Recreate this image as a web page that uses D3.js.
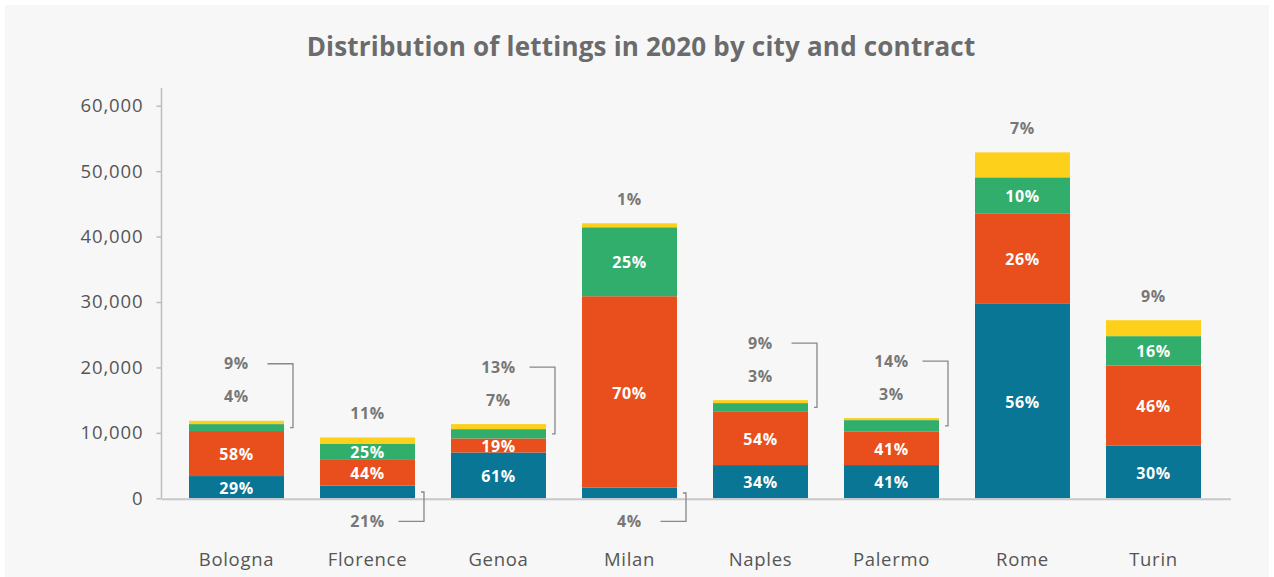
<!DOCTYPE html>
<html>
<head>
<meta charset="utf-8">
<script src="https://cdn.jsdelivr.net/npm/d3@7"></script>
<style>
  body { margin: 0; background: #fff; }
  text { font-family: "Open Sans", sans-serif; }
</style>
</head>
<body>
<div id="chart"></div>
<script>
// chart data
var cities = ["Bologna", "Florence", "Genoa", "Milan", "Naples", "Palermo", "Rome", "Turin"];
var seriesKeys = ["teal", "orange", "green", "yellow"];

var tealValues   = [3400, 1930, 7000, 1620, 5080, 5080, 29710, 8030];
var orangeValues = [6880, 4050, 2150, 29260, 8140, 5090, 13850, 12275];
var greenValues  = [1060, 2320, 1420, 10540, 1330, 1780, 5490, 4475];
var yellowValues = [510, 990, 770, 610, 450, 310, 3820, 2440];

// percentage labels as printed on the chart
var tealPct   = [29, 21, 61, 4, 34, 41, 56, 30];
var orangePct = [58, 44, 19, 70, 54, 41, 26, 46];
var greenPct  = [9, 25, 13, 25, 9, 14, 10, 16];
var yellowPct = [4, 11, 7, 1, 3, 3, 7, 9];

var yTicks = [0, 10000, 20000, 30000, 40000, 50000, 60000];

var colors = { teal: "#087694", orange: "#e94f1c", green: "#31ae6b", yellow: "#fdd01c" };
var pcts = { teal: tealPct, orange: orangePct, green: greenPct, yellow: yellowPct };

var svgWidth = 1274;
var svgHeight = 577;

var svg = d3.select("#chart")
  .append("svg")
  .attr("width", svgWidth)
  .attr("height", svgHeight);

// panel background
svg.append("rect")
  .attr("x", 5).attr("y", 5)
  .attr("width", 1264).attr("height", 572)
  .attr("fill", "#f7f7f7");

// title
svg.append("text")
  .attr("x", 641).attr("y", 56)
  .attr("text-anchor", "middle")
  .attr("font-size", 26)
  .attr("font-weight", 700)
  .attr("letter-spacing", 0.2)
  .attr("fill", "#6b6b6b")
  .text("Distribution of lettings in 2020 by city and contract");

// build table for the stack
var table = cities.map(function(c, i) {
  return { city: c, teal: tealValues[i], orange: orangeValues[i], green: greenValues[i], yellow: yellowValues[i] };
});
var stacked = d3.stack().keys(seriesKeys)(table);

// scales
var xScale = d3.scaleBand()
  .domain(cities)
  .range([171, 1219])
  .paddingInner(0.275)
  .paddingOuter(0.1375);

var yScale = d3.scaleLinear()
  .domain([0, 60000])
  .range([498.3, 105.7]);

// y axis
var leftAxis = d3.axisLeft(yScale)
  .tickValues(yTicks)
  .tickSize(5)
  .tickPadding(13)
  .tickFormat(d3.format(","));

var yAxis = svg.append("g")
  .attr("transform", "translate(161.5,0)")
  .call(leftAxis);
yAxis.select(".domain").remove();
yAxis.selectAll(".tick line").attr("stroke", "#bdbdbd").attr("stroke-width", 1.5);
yAxis.selectAll(".tick text")
  .attr("fill", "#555")
  .attr("font-size", 18.5)
  .attr("letter-spacing", 0.9)
  .style("font-family", "'Open Sans', sans-serif");

svg.append("line")
  .attr("x1", 161.5).attr("x2", 161.5)
  .attr("y1", 88).attr("y2", yScale(0))
  .attr("stroke", "#bdbdbd").attr("stroke-width", 1.5);

// bars
var layers = svg.append("g").selectAll("g")
  .data(stacked)
  .enter().append("g")
  .attr("fill", function(d) { return colors[d.key]; });

layers.selectAll("rect")
  .data(function(d) { return d; })
  .enter().append("rect")
  .attr("x", function(d) { return xScale(d.data.city); })
  .attr("width", xScale.bandwidth())
  .attr("y", function(d) { return yScale(d[1]); })
  .attr("height", function(d) { return yScale(d[0]) - yScale(d[1]); });

// baseline
svg.append("line")
  .attr("x1", 161.5).attr("x2", 1231)
  .attr("y1", yScale(0) + 1).attr("y2", yScale(0) + 1)
  .attr("stroke", "#c8c8c8").attr("stroke-width", 2);

// segment labels
var labelGroup = svg.append("g");
stacked.forEach(function(layer) {
  layer.forEach(function(d, i) {
    var city = d.data.city;
    var cx = xScale(city) + xScale.bandwidth() / 2;
    var right = xScale(city) + xScale.bandwidth();
    var top = yScale(d[1]);
    var bottom = yScale(d[0]);
    var h = bottom - top;
    var mid = (top + bottom) / 2;
    var txt = pcts[layer.key][i] + "%";
    var ly, inside = false;

    if (layer.key === "yellow") {
      ly = top - 24;
    } else if (h >= 14) {
      ly = mid + 1;
      inside = true;
    } else if (layer.key === "green") {
      ly = yScale(d.data.teal + d.data.orange + d.data.green + d.data.yellow) - 57;
    } else {
      ly = yScale(0) + 23;
    }

    labelGroup.append("text")
      .attr("x", cx)
      .attr("y", ly)
      .attr("dy", "0.35em")
      .attr("text-anchor", "middle")
      .attr("font-size", 16)
      .attr("font-weight", 700)
      .attr("letter-spacing", 0.6)
      .attr("fill", inside ? "#fff" : "#777")
      .text(txt);

    // connector bracket for labels moved out of thin segments
    if (!inside && layer.key !== "yellow") {
      labelGroup.append("path")
        .attr("d", "M" + (cx + 31) + "," + ly + "H" + (right + 9) + "V" + mid + "h-3")
        .attr("fill", "none")
        .attr("stroke", "#888")
        .attr("stroke-width", 1.3);
    }
  });
});

// category labels
svg.append("g").selectAll("text")
  .data(cities)
  .enter().append("text")
  .attr("x", function(d) { return xScale(d) + xScale.bandwidth() / 2; })
  .attr("y", 565.5)
  .attr("text-anchor", "middle")
  .attr("font-size", 18.5)
  .attr("letter-spacing", 0.7)
  .attr("fill", "#555")
  .text(function(d) { return d; });
</script>
</body>
</html>
